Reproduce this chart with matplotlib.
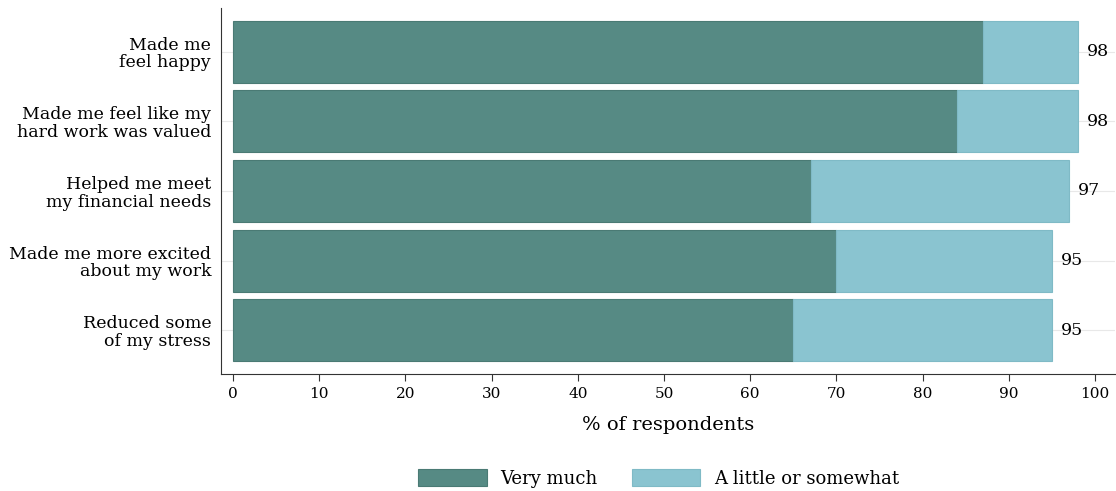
import numpy as np
import matplotlib.pyplot as plt

items = ["Made me\nfeel happy",
         "Made me feel like my\nhard work was valued",
         "Helped me meet\nmy financial needs",
         "Made me more excited\nabout my work",
         "Reduced some\nof my stress"]
very_much = [87, 84, 67, 70, 65]
totals = [98, 98, 97, 95, 95]
a_little = [t - v for t, v in zip(totals, very_much)]

plt.rcParams['font.family'] = ['DejaVu Serif']
plt.rcParams['font.size'] = 12.5

dark = '#568a84'
light = '#8ac4d0'

fig = plt.figure(figsize=(11.16, 4.91), dpi=100)
ax = fig.add_axes([0.198, 0.238, 0.801, 0.746])

y = np.arange(len(items))
ax.barh(y, very_much, height=0.89, color=dark, edgecolor='#4a7a74', linewidth=0.8, label='Very much', zorder=3)
ax.barh(y, a_little, left=very_much, height=0.89, color=light, edgecolor='#7fbac6', linewidth=0.8,
        label='A little or somewhat', zorder=3)

for yi, t in zip(y, totals):
    ax.text(t + 1.0, yi, str(t), va='center', ha='left', fontsize=12.5, zorder=4)

ax.set_yticks(y)
ax.set_yticklabels(items, linespacing=1.05)
ax.set_ylim(len(items) - 1 + 0.63, -0.63)
ax.set_xlim(-1.4, 102.3)
ax.set_xticks(np.arange(0, 101, 10))
ax.grid(axis='y', color='#e8e8e8', linewidth=0.8, zorder=0)
ax.tick_params(axis='y', length=0, pad=7)
ax.tick_params(axis='x', length=5, color='#333333', labelsize=11, pad=4)
for s in ['top', 'right']:
    ax.spines[s].set_visible(False)
ax.spines['left'].set_color('#333333')
ax.spines['bottom'].set_color('#333333')
ax.set_xlabel('% of respondents', fontsize=14, labelpad=11)

fig.legend(*ax.get_legend_handles_labels(), loc='center', bbox_to_anchor=(0.59, 0.026), ncol=2,
           frameon=False, fontsize=13, handlelength=3.8, handleheight=1.1, handletextpad=0.75,
           columnspacing=1.9)

fig.savefig('out.png', dpi=100)
